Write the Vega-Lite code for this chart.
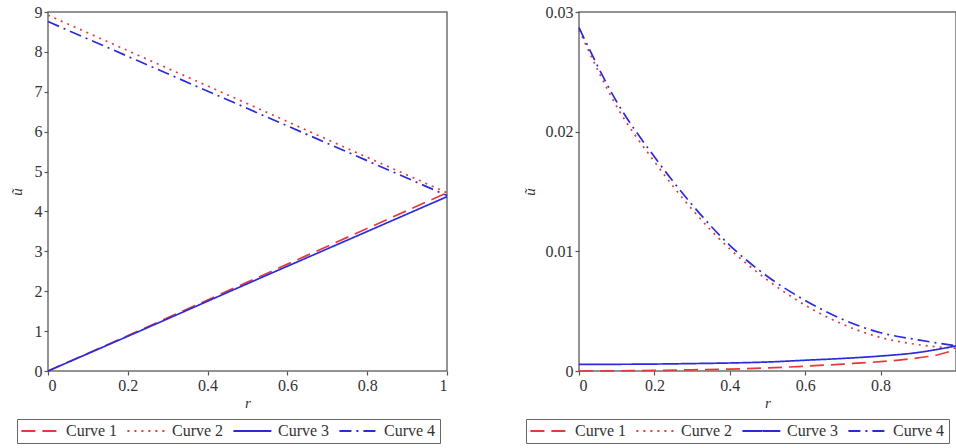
{
  "$schema": "https://vega.github.io/schema/vega-lite/v6.json",
  "background": "white",
  "padding": {"left": 8, "top": 3, "right": 0, "bottom": 0},
  "config": {
    "font": "Liberation Serif",
    "view": {"stroke": "#707070", "strokeWidth": 1.5},
    "axis": {"grid": false, "domain": false, "tickColor": "#555", "tickSize": 4, "tickWidth": 1.2, "labelFont": "Liberation Serif", "labelFontSize": 16, "labelColor": "#333", "labelPadding": 2, "titleFont": "Liberation Serif", "titleFontStyle": "italic", "titleFontWeight": "normal", "titleFontSize": 15, "titleColor": "#333"},
    "legend": {"labelFont": "Liberation Serif", "labelFontSize": 16, "labelColor": "#333"},
    "concat": {"spacing": 69}
  },
  "datasets": {
    "left": [
      {"r": 0, "u": 0, "curve": "Curve 1"},
      {"r": 0.25, "u": 1.11, "curve": "Curve 1"},
      {"r": 0.5, "u": 2.23, "curve": "Curve 1"},
      {"r": 0.75, "u": 3.35, "curve": "Curve 1"},
      {"r": 1, "u": 4.47, "curve": "Curve 1"},
      {"r": 0, "u": 8.92, "curve": "Curve 2"},
      {"r": 0.25, "u": 7.81, "curve": "Curve 2"},
      {"r": 0.5, "u": 6.7, "curve": "Curve 2"},
      {"r": 0.75, "u": 5.58, "curve": "Curve 2"},
      {"r": 1, "u": 4.47, "curve": "Curve 2"},
      {"r": 0, "u": 0, "curve": "Curve 3"},
      {"r": 0.25, "u": 1.09, "curve": "Curve 3"},
      {"r": 0.5, "u": 2.19, "curve": "Curve 3"},
      {"r": 0.75, "u": 3.28, "curve": "Curve 3"},
      {"r": 1, "u": 4.37, "curve": "Curve 3"},
      {"r": 0, "u": 8.76, "curve": "Curve 4"},
      {"r": 0.25, "u": 7.67, "curve": "Curve 4"},
      {"r": 0.5, "u": 6.58, "curve": "Curve 4"},
      {"r": 0.75, "u": 5.49, "curve": "Curve 4"},
      {"r": 1, "u": 4.4, "curve": "Curve 4"}
    ],
    "right": [
      {"r": 0, "u": 0.0, "curve": "Curve 1"},
      {"r": 0.1, "u": 0.00002, "curve": "Curve 1"},
      {"r": 0.2, "u": 0.00005, "curve": "Curve 1"},
      {"r": 0.3, "u": 0.0001, "curve": "Curve 1"},
      {"r": 0.4, "u": 0.00016, "curve": "Curve 1"},
      {"r": 0.5, "u": 0.00026, "curve": "Curve 1"},
      {"r": 0.6, "u": 0.0004, "curve": "Curve 1"},
      {"r": 0.7, "u": 0.00058, "curve": "Curve 1"},
      {"r": 0.8, "u": 0.00078, "curve": "Curve 1"},
      {"r": 0.9, "u": 0.0011, "curve": "Curve 1"},
      {"r": 0.95, "u": 0.00134, "curve": "Curve 1"},
      {"r": 1, "u": 0.0018, "curve": "Curve 1"},
      {"r": 0, "u": 0.0285, "curve": "Curve 2"},
      {"r": 0.1, "u": 0.0221, "curve": "Curve 2"},
      {"r": 0.2, "u": 0.0175, "curve": "Curve 2"},
      {"r": 0.3, "u": 0.0135, "curve": "Curve 2"},
      {"r": 0.4, "u": 0.0102, "curve": "Curve 2"},
      {"r": 0.5, "u": 0.0076, "curve": "Curve 2"},
      {"r": 0.6, "u": 0.0055, "curve": "Curve 2"},
      {"r": 0.7, "u": 0.0039, "curve": "Curve 2"},
      {"r": 0.8, "u": 0.0028, "curve": "Curve 2"},
      {"r": 0.9, "u": 0.0022, "curve": "Curve 2"},
      {"r": 1, "u": 0.0019, "curve": "Curve 2"},
      {"r": 0, "u": 0.00055, "curve": "Curve 3"},
      {"r": 0.1, "u": 0.00056, "curve": "Curve 3"},
      {"r": 0.2, "u": 0.00058, "curve": "Curve 3"},
      {"r": 0.3, "u": 0.00062, "curve": "Curve 3"},
      {"r": 0.4, "u": 0.00067, "curve": "Curve 3"},
      {"r": 0.5, "u": 0.00075, "curve": "Curve 3"},
      {"r": 0.6, "u": 0.0009, "curve": "Curve 3"},
      {"r": 0.7, "u": 0.00105, "curve": "Curve 3"},
      {"r": 0.8, "u": 0.00125, "curve": "Curve 3"},
      {"r": 0.9, "u": 0.00155, "curve": "Curve 3"},
      {"r": 0.95, "u": 0.0018, "curve": "Curve 3"},
      {"r": 1, "u": 0.0021, "curve": "Curve 3"},
      {"r": 0, "u": 0.0287, "curve": "Curve 4"},
      {"r": 0.1, "u": 0.0225, "curve": "Curve 4"},
      {"r": 0.2, "u": 0.0179, "curve": "Curve 4"},
      {"r": 0.3, "u": 0.0139, "curve": "Curve 4"},
      {"r": 0.4, "u": 0.0105, "curve": "Curve 4"},
      {"r": 0.5, "u": 0.0079, "curve": "Curve 4"},
      {"r": 0.6, "u": 0.0059, "curve": "Curve 4"},
      {"r": 0.7, "u": 0.0043, "curve": "Curve 4"},
      {"r": 0.8, "u": 0.0032, "curve": "Curve 4"},
      {"r": 0.9, "u": 0.0026, "curve": "Curve 4"},
      {"r": 1, "u": 0.0021, "curve": "Curve 4"}
    ]
  },
  "hconcat": [
    {
      "width": 399,
      "height": 359,
      "data": {"name": "left"},
      "mark": {"type": "line", "strokeWidth": 1.7, "interpolate": "monotone"},
      "encoding": {
        "x": {"field": "r", "type": "quantitative", "scale": {"domain": [0, 1], "nice": false}, "axis": {"values": [0, 0.2, 0.4, 0.6, 0.8, 1], "format": "~g", "title": "r", "titlePadding": 2}},
        "y": {"field": "u", "type": "quantitative", "scale": {"domain": [0, 9], "nice": false}, "axis": {"values": [0, 1, 2, 3, 4, 5, 6, 7, 8, 9], "format": "~g", "title": "ũ", "titlePadding": 10}},
        "order": {"field": "r", "type": "quantitative"},
        "color": {"field": "curve", "type": "nominal", "scale": {"domain": ["Curve 1", "Curve 2", "Curve 3", "Curve 4"], "range": ["#e53a3a", "#e53a3a", "#2b2bdb", "#2b2bdb"]},
          "legend": {"title": null, "orient": "none", "legendX": -31, "legendY": 407, "direction": "horizontal", "strokeColor": "#666", "padding": 4, "symbolType": "M-4,0H16", "symbolSize": 14.4, "symbolStrokeWidth": 2, "labelOffset": 29, "columnPadding": 5}},
        "strokeDash": {"field": "curve", "type": "nominal", "scale": {"domain": ["Curve 1", "Curve 2", "Curve 3", "Curve 4"], "range": [[14, 7], [2, 5], [1, 0], [12, 5, 2, 5]]},
          "legend": {"title": null, "orient": "none", "legendX": -31, "legendY": 407, "direction": "horizontal", "strokeColor": "#666", "padding": 4, "symbolType": "M-4,0H16", "symbolSize": 14.4, "symbolStrokeWidth": 2, "labelOffset": 29, "columnPadding": 5}}
      }
    },
    {
      "width": 377,
      "height": 359,
      "data": {"name": "right"},
      "mark": {"type": "line", "strokeWidth": 1.7, "interpolate": "monotone"},
      "encoding": {
        "x": {"field": "r", "type": "quantitative", "scale": {"domain": [0, 1], "nice": false}, "axis": {"values": [0, 0.2, 0.4, 0.6, 0.8], "format": "~g", "title": "r", "titlePadding": 2}},
        "y": {"field": "u", "type": "quantitative", "scale": {"domain": [0, 0.03], "nice": false}, "axis": {"values": [0, 0.01, 0.02, 0.03], "format": "~g", "title": "ũ", "titlePadding": 8}},
        "order": {"field": "r", "type": "quantitative"},
        "color": {"field": "curve", "type": "nominal", "scale": {"domain": ["Curve 1", "Curve 2", "Curve 3", "Curve 4"], "range": ["#e53a3a", "#e53a3a", "#2b2bdb", "#2b2bdb"]},
          "legend": {"title": null, "orient": "none", "legendX": -53, "legendY": 407, "direction": "horizontal", "strokeColor": "#666", "padding": 4, "symbolType": "M-4,0H16", "symbolSize": 14.4, "symbolStrokeWidth": 2, "labelOffset": 29, "columnPadding": 5}},
        "strokeDash": {"field": "curve", "type": "nominal", "scale": {"domain": ["Curve 1", "Curve 2", "Curve 3", "Curve 4"], "range": [[14, 7], [2, 5], [1, 0], [12, 5, 2, 5]]},
          "legend": {"title": null, "orient": "none", "legendX": -53, "legendY": 407, "direction": "horizontal", "strokeColor": "#666", "padding": 4, "symbolType": "M-4,0H16", "symbolSize": 14.4, "symbolStrokeWidth": 2, "labelOffset": 29, "columnPadding": 5}}
      }
    }
  ],
  "resolve": {"scale": {"x": "independent", "y": "independent", "color": "independent", "strokeDash": "independent"}, "legend": {"color": "independent", "strokeDash": "independent"}}
}
